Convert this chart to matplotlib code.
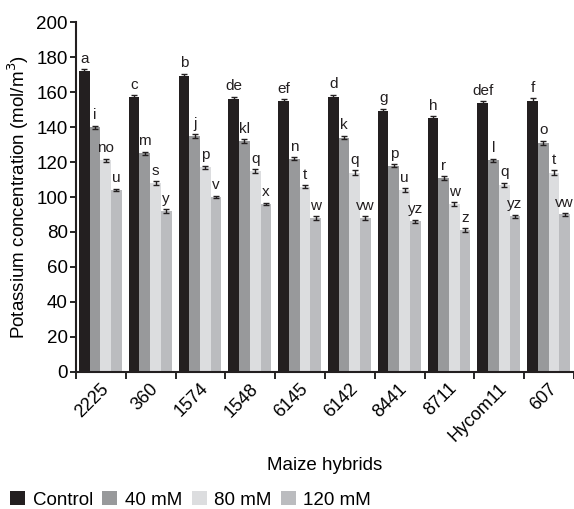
import numpy as np
import matplotlib
matplotlib.use("Agg")
import matplotlib.pyplot as plt
from matplotlib.patches import Patch

plt.rcParams['font.family'] = ['Liberation Sans Narrow', 'Liberation Sans', 'DejaVu Sans']

hybrids = ['2225', '360', '1574', '1548', '6145', '6142', '8441', '8711', 'Hycom11', '607']
series = ['Control', '40 mM', '80 mM', '120 mM']
colors = ['#231f20', '#98999b', '#dcdddf', '#bbbcbf']

control = [172, 157, 169, 156, 155, 157, 149, 145, 154, 155]
mm40 = [140, 125, 135, 132, 122, 134, 118, 111, 121, 131]
mm80 = [121, 108, 117, 115, 106, 114, 104, 96, 107, 114]
mm120 = [104, 92, 100, 96, 88, 88, 86, 81, 89, 90]

err_control = [1.2, 1.2, 1.5, 1.5, 1.0, 1.5, 1.5, 1.2, 0.8, 1.5]
err_40 = [0.8, 1.0, 1.0, 1.0, 0.8, 1.0, 0.8, 1.0, 0.8, 1.2]
err_80 = [0.8, 1.0, 1.0, 1.0, 0.8, 1.2, 1.0, 1.0, 1.2, 1.2]
err_120 = [0.8, 1.0, 0.8, 0.8, 1.0, 1.0, 1.0, 1.2, 0.8, 0.8]

letters = [
    ['a', 'c', 'b', 'de', 'ef', 'd', 'g', 'h', 'def', 'f'],
    ['i', 'm', 'j', 'kl', 'n', 'k', 'p', 'r', 'l', 'o'],
    ['no', 's', 'p', 'q', 't', 'q', 'u', 'w', 'q', 't'],
    ['u', 'y', 'v', 'x', 'w', 'vw', 'yz', 'z', 'yz', 'vw'],
]

values = [control, mm40, mm80, mm120]
errors = [err_control, err_40, err_80, err_120]

fig = plt.figure(figsize=(5.74, 5.09), dpi=100)
ax = fig.add_axes([0.1324, 0.2697, 0.8676, 0.6865])

n = len(hybrids)
x = np.arange(n)
w = 0.215
for j in range(4):
    xs = x - 0.5 + 0.06 + w * (j + 0.5)
    ax.bar(xs, values[j], width=w, color=colors[j], linewidth=0, zorder=2)
    ax.errorbar(xs, values[j], yerr=errors[j], fmt='none', ecolor='#231f20',
                elinewidth=1.0, capsize=2.5, capthick=1.0, zorder=3)
    for k in range(n):
        ax.annotate(letters[j][k], (xs[k], values[j][k] + errors[j][k]),
                    xytext=(0, 2.5), textcoords='offset points',
                    ha='center', va='bottom', fontsize=11, color='#231f20')

ax.set_xlim(-0.5, n - 0.5)
ax.set_ylim(0, 200)
ax.set_yticks(np.arange(0, 201, 20))

ax.set_xticks(np.arange(-0.5, n - 0.4, 1.0))
ax.set_xticklabels([])
ax.set_xticks(x - 0.02, minor=True)
ax.set_xticklabels(hybrids, minor=True, rotation=45, ha='right',
                   rotation_mode='anchor', fontsize=13)
ax.tick_params(axis='x', which='minor', length=0, pad=6)
ax.tick_params(axis='x', which='major', length=5, width=1.2, direction='out')
ax.tick_params(axis='y', length=4, width=1.2, direction='out', labelsize=13.5, pad=2)

for s in ['top', 'right']:
    ax.spines[s].set_visible(False)
for s in ['left', 'bottom']:
    ax.spines[s].set_linewidth(1.5)
    ax.spines[s].set_color('#231f20')

ax.set_ylabel('Potassium concentration (mol/m$^3$)', fontsize=13.5, labelpad=4)
fig.text(0.566, 0.086, 'Maize hybrids', ha='center', va='center', fontsize=13.5)

handles = [Patch(facecolor=c, edgecolor='none') for c in colors]
fig.legend(handles, series, loc='lower left', bbox_to_anchor=(-0.005, -0.025),
           ncol=4, frameon=False, fontsize=13.5, handlelength=0.8, handleheight=0.8,
           handletextpad=0.4, columnspacing=0.5, borderpad=0.2)

fig.savefig('out.png', dpi=100)
